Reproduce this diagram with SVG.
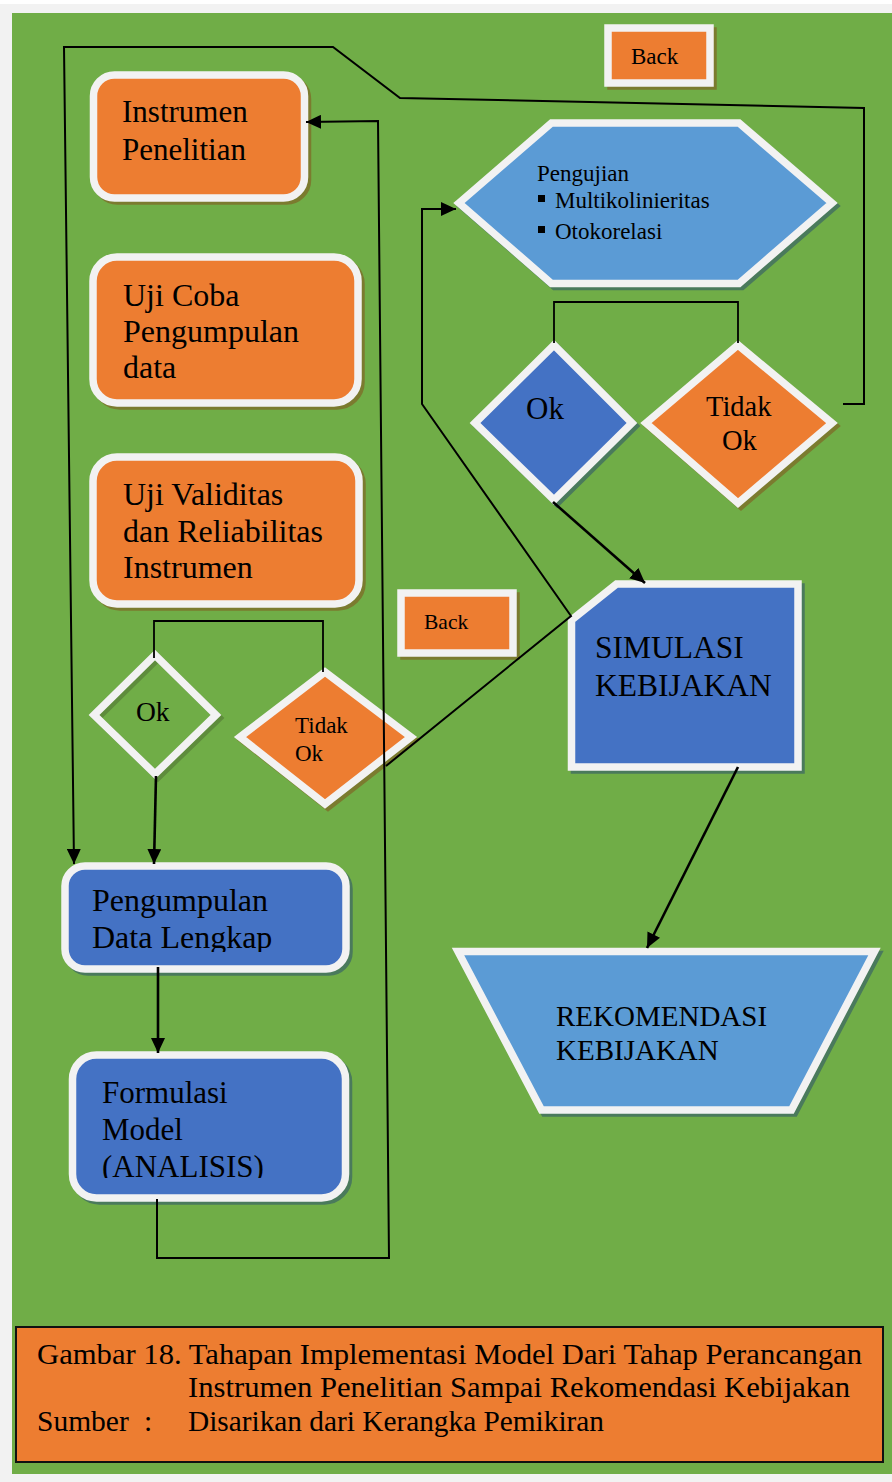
<svg xmlns="http://www.w3.org/2000/svg" width="892" height="1482" viewBox="0 0 892 1482" font-family="'Liberation Serif', 'Times New Roman', Times, serif">
  <style>
    text { font-family: 'Liberation Serif', 'Times New Roman', Times, serif; fill: #000; }
    .box { stroke: #F2F2F2; stroke-width: 7.5; stroke-linejoin: miter; }
    .org { fill: #ED7D31; }
    .blu { fill: #4472C4; }
    .lbl { fill: #5B9BD5; }
    .sh-o { fill: #7B7B2F; stroke: #7B7B2F; stroke-width: 7.5; }
    .sh-b { fill: #4A7A5C; stroke: #4A7A5C; stroke-width: 7.5; }
    .sh-g { fill: none; stroke: #5E8C3C; stroke-width: 7.5; }
    .ln { fill: none; stroke: #000; stroke-width: 2; stroke-linejoin: miter; }
    .ln-b { fill: none; stroke: #000; stroke-width: 2.6; }
    .ln-t { fill: none; stroke: #000; stroke-width: 1.8; }
  </style>
  <defs>
    <marker id="arr" markerUnits="userSpaceOnUse" markerWidth="16" markerHeight="14" refX="15" refY="7" orient="auto">
      <path d="M0,0 L15,7 L0,14 z" fill="#000"/>
    </marker>
    <clipPath id="clipData"><rect x="60" y="860" width="300" height="92"/></clipPath>
    <clipPath id="clipForm"><rect x="60" y="1050" width="300" height="128"/></clipPath>
  </defs>

  <!-- page -->
  <rect x="0" y="0" width="892" height="1482" fill="#F2F2F2"/>
  <rect x="0" y="0" width="892" height="4" fill="#FFFFFF"/>
  <rect x="12" y="13" width="880" height="1461" fill="#70AD47"/>

  <!-- Instrumen Penelitian -->
  <g id="instrumen">
    <rect class="sh-o" x="96.5" y="78" width="211" height="123" rx="21"/>
    <rect class="box org" x="93.5" y="75" width="211" height="123" rx="21"/>
    <text font-size="31" x="122" y="122">Instrumen</text>
    <text font-size="31" x="122" y="160">Penelitian</text>
  </g>

  <!-- Uji Coba Pengumpulan data -->
  <g id="ujicoba">
    <rect class="sh-o" x="96" y="260" width="265" height="146" rx="24"/>
    <rect class="box org" x="93" y="257" width="265" height="146" rx="24"/>
    <text font-size="32" x="123" y="306">Uji Coba</text>
    <text font-size="32" x="123" y="342">Pengumpulan</text>
    <text font-size="32" x="123" y="378">data</text>
  </g>

  <!-- Uji Validitas -->
  <g id="validitas">
    <rect class="sh-o" x="96" y="460" width="266" height="147" rx="24"/>
    <rect class="box org" x="93" y="457" width="266" height="147" rx="24"/>
    <text font-size="32" x="123" y="505">Uji Validitas</text>
    <text font-size="32" x="123" y="542">dan Reliabilitas</text>
    <text font-size="32" x="123" y="578">Instrumen</text>
  </g>

  <!-- Back (upper) -->
  <g id="back-top">
    <rect class="sh-o" x="611" y="31" width="102" height="55"/>
    <rect class="box org" x="608" y="28" width="102" height="55"/>
    <text font-size="23" x="631" y="64">Back</text>
  </g>

  <!-- Pengujian hexagon -->
  <g id="pengujian">
    <polygon class="sh-b" points="462,206 554.5,126 742,126 835,206 742,286.5 554.5,286.5"/>
    <polygon class="box lbl" points="459,203 551.5,123 739,123 832,203 739,283.5 551.5,283.5"/>
    <text font-size="23" x="537" y="181">Pengujian</text>
    <rect x="538" y="195" width="7" height="7" fill="#000"/>
    <text font-size="23" x="555" y="208">Multikolinieritas</text>
    <rect x="538" y="226" width="7" height="7" fill="#000"/>
    <text font-size="23" x="555" y="239">Otokorelasi</text>
  </g>

  <!-- Ok (right) -->
  <g id="ok-right">
    <polygon class="sh-b" points="478,426 557,348 635,426 557,503"/>
    <polygon class="box blu" points="475,423 554,345 632,423 554,500"/>
    <text font-size="31" x="526" y="419">Ok</text>
  </g>

  <!-- Tidak Ok (right) -->
  <g id="tidakok-right">
    <polygon class="sh-o" points="649,426 741,348 835,426 741,506"/>
    <polygon class="box org" points="646,423 738,345 832,423 738,503"/>
    <text font-size="28.5" x="706" y="416">Tidak</text>
    <text font-size="28.5" x="722" y="450">Ok</text>
  </g>

  <!-- Back (lower) -->
  <g id="back-low">
    <rect class="sh-o" x="404" y="596" width="112" height="60"/>
    <rect class="box org" x="401" y="593" width="112" height="60"/>
    <text font-size="21.5" x="424" y="629">Back</text>
  </g>

  <!-- Ok (left) -->
  <g id="ok-left">
    <polygon class="sh-g" points="97,718 158,658 219,718 158,777"/>
    <polygon class="box" fill="none" points="94,715 155,655 216,715 155,774"/>
    <text font-size="27.5" x="136" y="721">Ok</text>
  </g>

  <!-- Tidak Ok (left) -->
  <g id="tidakok-left">
    <polygon class="sh-o" points="243,740 328,675 414,740 328,807"/>
    <polygon class="box org" points="240,737 325,672 411,737 325,804"/>
    <text font-size="23" x="295" y="733">Tidak</text>
    <text font-size="23" x="295" y="761">Ok</text>
  </g>

  <!-- Simulasi Kebijakan -->
  <g id="simulasi">
    <polygon class="sh-b" points="574.5,623 619.5,587 801,587 801,770 574.5,770"/>
    <polygon class="box blu" points="571.5,620 616.5,584 798,584 798,767 571.5,767"/>
    <text font-size="31.5" x="595" y="658">SIMULASI</text>
    <text font-size="31.5" x="595" y="696">KEBIJAKAN</text>
  </g>

  <!-- Pengumpulan Data Lengkap -->
  <g id="pengumpulan">
    <rect class="sh-b" x="68" y="869" width="281" height="103" rx="20"/>
    <rect class="box blu" x="65" y="866" width="281" height="103" rx="20"/>
    <g clip-path="url(#clipData)">
      <text font-size="32" x="92" y="911">Pengumpulan</text>
      <text font-size="32" x="92" y="948">Data Lengkap</text>
    </g>
  </g>

  <!-- Rekomendasi Kebijakan -->
  <g id="rekomendasi">
    <polygon class="sh-b" points="461,954.5 877.5,954.5 794.5,1113 544.5,1113"/>
    <polygon class="box lbl" points="458,951.5 874.5,951.5 791.5,1110 541.5,1110"/>
    <text font-size="29" x="556" y="1026">REKOMENDASI</text>
    <text font-size="29" x="556" y="1060">KEBIJAKAN</text>
  </g>

  <!-- Formulasi Model -->
  <g id="formulasi">
    <rect class="sh-b" x="75.5" y="1058" width="273" height="143" rx="24"/>
    <rect class="box blu" x="72.5" y="1055" width="273" height="143" rx="24"/>
    <g clip-path="url(#clipForm)">
      <text font-size="31" x="102" y="1103">Formulasi</text>
      <text font-size="31" x="102" y="1140">Model</text>
      <text font-size="31" x="102" y="1177">(ANALISIS)</text>
    </g>
  </g>

  <!-- connectors -->
  <g id="connectors">
    <polyline class="ln" points="843,404 864,404 864,108 400,98 333,47 64,47 74,864" marker-end="url(#arr)"/>
    <polyline class="ln" points="386,766 571,616 422,404 422,209 456,209" marker-end="url(#arr)"/>
    <polyline class="ln" points="157,1199 157,1258 389,1258 378,121 306,122" marker-end="url(#arr)"/>
    <line class="ln-b" x1="553" y1="502" x2="645" y2="583" marker-end="url(#arr)"/>
    <line class="ln-b" x1="738" y1="767" x2="647" y2="948" marker-end="url(#arr)"/>
    <line class="ln-b" x1="156" y1="776" x2="154" y2="864" marker-end="url(#arr)"/>
    <line class="ln-b" x1="158" y1="967" x2="158" y2="1053" marker-end="url(#arr)"/>
    <polyline class="ln-t" points="554,343 554,302 738,302 738,343"/>
    <polyline class="ln-t" points="154,658 154,621 323,621 323,672"/>
  </g>

  <!-- caption -->
  <g id="caption">
    <rect x="16" y="1327" width="867" height="135" fill="#ED7D31" stroke="#111" stroke-width="2"/>
    <text font-size="29.5" x="37" y="1364" textLength="825" lengthAdjust="spacingAndGlyphs">Gambar 18. Tahapan Implementasi Model Dari Tahap Perancangan</text>
    <text font-size="29.5" x="188" y="1397" textLength="662" lengthAdjust="spacingAndGlyphs">Instrumen Penelitian Sampai Rekomendasi Kebijakan</text>
    <text font-size="29.5" x="37" y="1431">Sumber</text>
    <text font-size="29.5" x="144" y="1431">:</text>
    <text font-size="29.5" x="188" y="1431" textLength="416" lengthAdjust="spacingAndGlyphs">Disarikan dari Kerangka Pemikiran</text>
  </g>
</svg>
